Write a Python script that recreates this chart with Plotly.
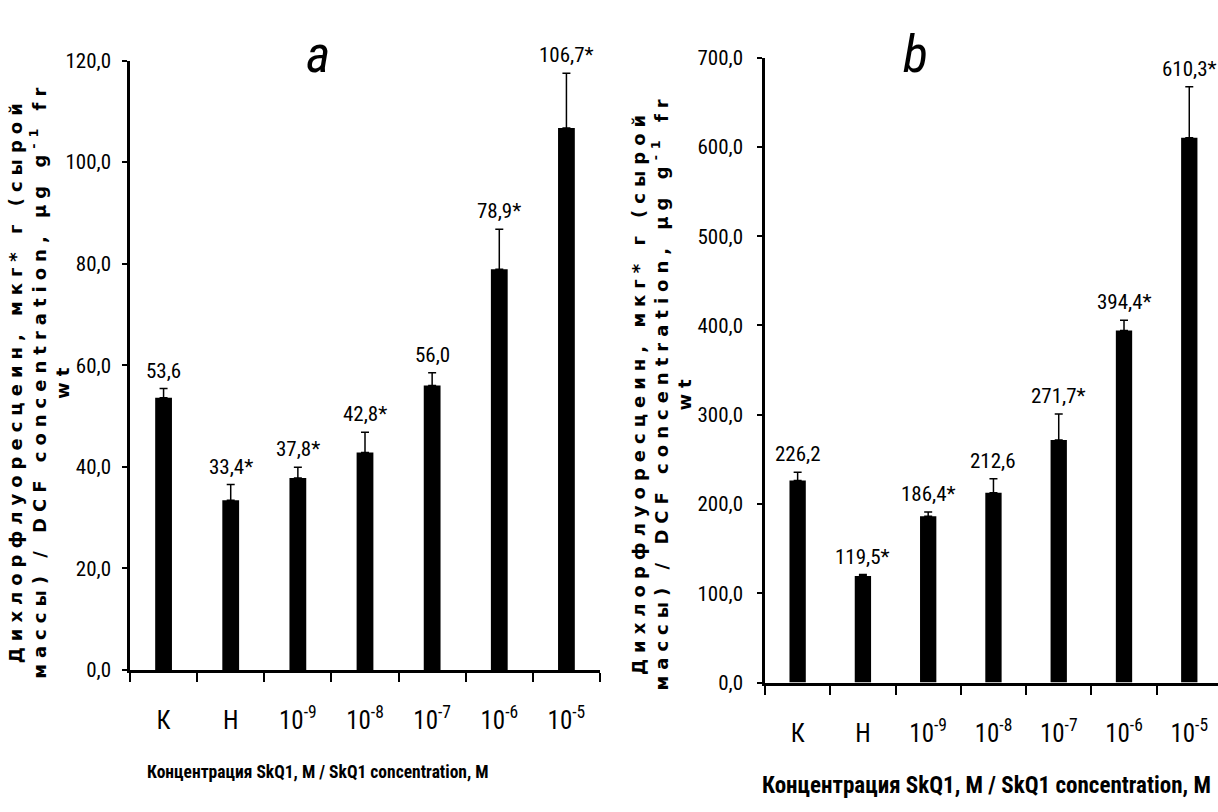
import plotly.graph_objects as go

categories = ["К", "Н", "10<sup>-9</sup>", "10<sup>-8</sup>", "10<sup>-7</sup>", "10<sup>-6</sup>", "10<sup>-5</sup>"]

values_a = [53.6, 33.4, 37.8, 42.8, 56.0, 78.9, 106.7]
errors_a = [1.8, 3.1, 2.1, 4.0, 2.5, 7.9, 10.8]
labels_a = ["53,6", "33,4*", "37,8*", "42,8*", "56,0", "78,9*", "106,7*"]

values_b = [226.2, 119.5, 186.4, 212.6, 271.7, 394.4, 610.3]
errors_b = [9.4, 1.5, 4.7, 15.7, 29.0, 11.4, 57.0]
labels_b = ["226,2", "119,5*", "186,4*", "212,6", "271,7*", "394,4*", "610,3*"]

y_title = ("Дихлорфлуоресцеин, мкг* г (сырой<br>массы) / DCF concentration, µg g<sup>-1</sup> fr<br>wt")
x_title = "Концентрация SkQ1, M / SkQ1 concentration, M"

NARROW = "Roboto Condensed, DejaVu Sans Condensed, Liberation Sans Narrow, sans-serif"
BOLD = "DejaVu Sans, Liberation Sans, sans-serif"

W, H = 1218, 812

fig = go.Figure()
annotations = []


def add_panel(vals, errs, labs, xa, ya):
    fig.add_trace(go.Bar(
        x=categories, y=vals, xaxis=xa, yaxis=ya,
        marker=dict(color="black", line=dict(width=0)),
        error_y=dict(type="data", array=errs, arrayminus=[0] * len(errs), symmetric=False,
                     color="black", thickness=1.5, width=4),
        showlegend=False, hoverinfo="skip",
    ))
    for c, v, e, t in zip(categories, vals, errs, labs):
        annotations.append(dict(
            text=t, x=c, y=v + e, xref=xa, yref=ya, showarrow=False,
            xanchor="center", yanchor="bottom", yshift=4,
            font=dict(family=NARROW, size=21, color="black"),
        ))


add_panel(values_a, errors_a, labels_a, "x", "y")
add_panel(values_b, errors_b, labels_b, "x2", "y2")


def px_x(p):
    return p / W


def px_y(p):
    return 1 - p / H


xaxis_common = dict(
    type="category", showline=True, linecolor="black", linewidth=3,
    ticks="outside", tickson="boundaries", ticklen=9, tickwidth=2, tickcolor="black",
    tickfont=dict(family=NARROW, size=25, color="black"), ticklabelstandoff=26,
    showgrid=False, zeroline=False, fixedrange=True,
)
yaxis_common = dict(
    showline=True, linecolor="black", linewidth=2.5,
    ticks="outside", ticklen=5, tickwidth=2, tickcolor="black",
    tickfont=dict(family=NARROW, size=21, color="black"),
    tickformat=".1f", showgrid=False, zeroline=False, fixedrange=True,
)

fig.update_layout(
    width=W, height=H,
    margin=dict(l=0, r=0, t=0, b=0),
    paper_bgcolor="white", plot_bgcolor="white",
    separators=", ",
    bargap=0.75,
    xaxis=dict(xaxis_common, domain=[px_x(130), px_x(600)], anchor="y", range=[-0.5, 6.5]),
    yaxis=dict(yaxis_common, domain=[px_y(678), px_y(50)], anchor="x", range=[0, 120], dtick=20,
               ticklabelstandoff=7),
    xaxis2=dict(xaxis_common, domain=[px_x(765), 1.0], anchor="y2", range=[-0.5, 6.44]),
    yaxis2=dict(yaxis_common, domain=[px_y(691), px_y(47)], anchor="x2", range=[0, 700], dtick=100,
                ticklabelstandoff=10),
)

ytitle_html = '<span style="letter-spacing:6px"><b>' + y_title + '</b></span>'

paper_texts = [
    dict(text="<i>a</i>", x=px_x(318), y=px_y(44), font=dict(family=NARROW, size=52, color="black")),
    dict(text="<i>b</i>", x=px_x(915), y=px_y(44), font=dict(family=NARROW, size=52, color="black")),
    dict(text="<b>" + x_title + "</b>", x=px_x(318), y=px_y(783),
         font=dict(family=NARROW, size=17.5, color="black")),
    dict(text="<b>" + x_title + "</b>", x=px_x(986), y=px_y(797),
         font=dict(family=NARROW, size=23, color="black")),
    dict(text=ytitle_html, x=px_x(39), y=px_y(380), textangle=-90, align="center",
         font=dict(family=BOLD, size=18, color="black")),
    dict(text=ytitle_html, x=px_x(662), y=px_y(392), textangle=-90, align="center",
         font=dict(family=BOLD, size=18, color="black")),
]
for a in paper_texts:
    a.update(xref="paper", yref="paper", showarrow=False, xanchor="center", yanchor="middle")
annotations.extend(paper_texts)
fig.update_layout(annotations=annotations)

fig.write_html("out.html", config={"displayModeBar": False},
               post_script="document.body.style.margin='0px';")
